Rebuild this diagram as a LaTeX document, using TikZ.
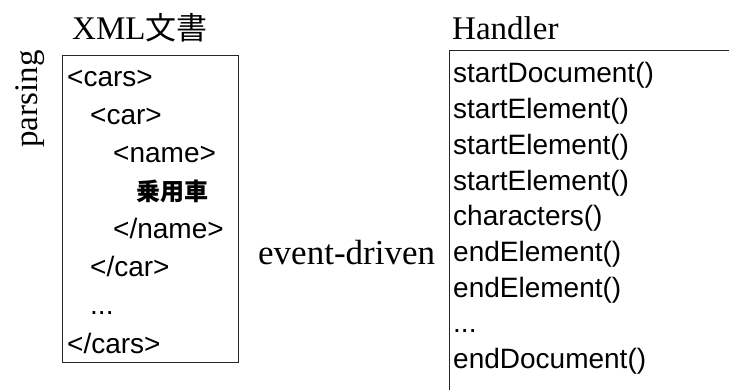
\documentclass[tikz,border=0pt]{standalone}
\usepackage{fontspec}
\setmainfont{Liberation Serif}
\setsansfont{Liberation Sans}
\newfontfamily\jpfont{Noto Sans CJK JP}
\usetikzlibrary{positioning}
\tikzset{
  heading/.style={font=\fontsize{33}{38}\selectfont, inner sep=0pt},
  frame/.style={draw=black!85, line width=1.4pt, inner sep=0pt, anchor=north west},
  tagline/.style={font=\sffamily\fontsize{28}{32}\selectfont, inner sep=0pt, anchor=base west},
  callrow/.style={tagline},
}

\begin{document}
\begin{tikzpicture}[x=1pt,y=-1pt]
  \useasboundingbox (0,0) rectangle (729,390);
  \clip (0,0) rectangle (729,390);
  % headings
  \node[heading, anchor=base west] (xmltitle) at (72,40) {XML{\jpfont\fontsize{31}{36}\selectfont 文書}};
  \node[heading, anchor=base west] (handlertitle) at (452,40) {Handler};
  \node[heading, rotate=90] (parsing) at (30,99) {parsing};
  \node[heading, anchor=base west, font=\fontsize{35}{40}\selectfont] (event) at (258,265) {event-driven};
  % the XML document
  \node[frame, minimum width=176pt, minimum height=307pt] (xmldoc) at (62,55) {};
  \foreach \i/\d/\t in {
      0/0/{<cars>}, 1/1/{<car>}, 2/2/{<name>}, 3/3/{{\jpfont\bfseries\fontsize{24}{30}\selectfont 乗用車}},
      4/2/{</name>}, 5/1/{</car>}, 6/1/{...}, 7/0/{</cars>}} {
    \node[tagline] (tag\i) at (67+23*\d, 87+38*\i) {\t};
  }
  % the handler calls
  \node[frame, minimum width=320pt, minimum height=380pt] (handler) at (449,50) {};
  \foreach \i/\t in {
      0/startDocument(), 1/startElement(), 2/startElement(), 3/startElement(),
      4/characters(), 5/endElement(), 6/endElement(), 7/{...}, 8/endDocument()} {
    \node[callrow] (call\i) at (453, 83+35.7*\i) {\t};
  }
\end{tikzpicture}
\end{document}
